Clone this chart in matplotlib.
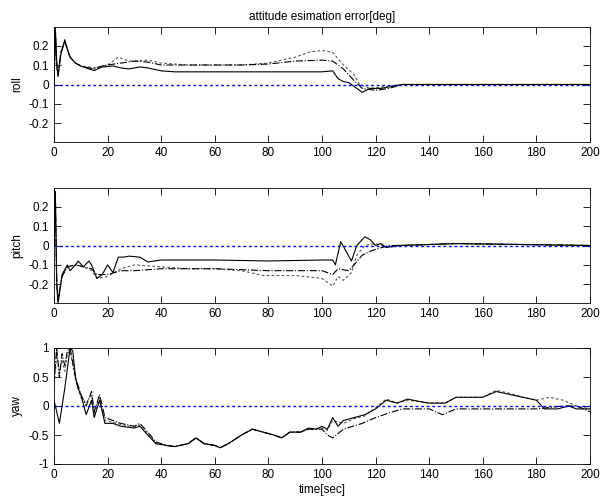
import numpy as np
import matplotlib
matplotlib.use('Agg')
import matplotlib.pyplot as plt
from matplotlib import rc

rc('font', size=8.5, family='Liberation Sans')

# ---- data (time [s], error [deg]) ----
roll_t1 = [0, 0.5, 1, 1.5, 2.5, 4, 5, 6, 8, 10, 13, 15, 18, 22, 25, 28, 32, 35, 40, 45,
           60, 80, 100, 104, 106, 108, 110, 112, 115, 118, 122, 126, 130, 160, 200]
roll_v1 = [0.0, 0.29, 0.12, 0.04, 0.15, 0.23, 0.18, 0.14, 0.11, 0.095, 0.08, 0.072, 0.09, 0.095,
           0.085, 0.08, 0.09, 0.085, 0.07, 0.065, 0.065, 0.065, 0.065, 0.07, 0.03, 0.015, 0.01,
           -0.01, -0.04, -0.02, -0.02, -0.01, 0.0, 0.0, 0.0]
roll_t2 = [0, 0.5, 1, 1.5, 2.5, 4, 5, 6, 8, 10, 13, 15, 18, 20, 25, 30, 35, 40, 50, 60, 70,
           80, 90, 100, 104, 108, 112, 115, 120, 125, 130, 160, 200]
roll_v2 = [0.0, 0.27, 0.1, 0.05, 0.16, 0.22, 0.18, 0.14, 0.11, 0.095, 0.085, 0.08, 0.095, 0.1,
           0.11, 0.12, 0.115, 0.1, 0.1, 0.1, 0.1, 0.105, 0.12, 0.125, 0.12, 0.08, 0.02, -0.02,
           -0.03, -0.02, 0.0, 0.0, 0.0]
roll_t3 = [0, 0.5, 1, 1.5, 2.5, 4, 5, 6, 8, 10, 13, 15, 18, 20, 24, 28, 35, 40, 50, 60, 70,
           80, 90, 95, 100, 104, 108, 112, 114, 118, 124, 130, 160, 200]
roll_v3 = [0.0, 0.26, 0.08, 0.06, 0.17, 0.22, 0.18, 0.14, 0.11, 0.095, 0.09, 0.085, 0.095, 0.1,
           0.14, 0.12, 0.125, 0.11, 0.1, 0.1, 0.1, 0.11, 0.14, 0.165, 0.175, 0.165, 0.1, 0.05,
           0.0, -0.02, -0.01, 0.0, 0.0, 0.0]

pitch_t1 = [0, 0.5, 1, 1.5, 2, 3, 5, 6, 8, 9, 11, 13, 14, 16, 18, 20, 22, 24, 26, 28, 32, 35,
            40, 60, 80, 100, 104, 105, 107, 109, 111, 113, 116, 118, 120, 122, 124, 128, 140,
            150, 200]
pitch_v1 = [0.0, 0.28, -0.2, -0.3, -0.25, -0.15, -0.1, -0.13, -0.1, -0.08, -0.11, -0.08, -0.1,
            -0.17, -0.15, -0.1, -0.14, -0.06, -0.06, -0.055, -0.06, -0.085, -0.075, -0.075,
            -0.08, -0.075, -0.075, -0.1, 0.02, -0.03, -0.08, 0.0, 0.045, 0.03, 0.0, 0.01,
            -0.01, 0.0, 0.005, 0.01, 0.0]
pitch_t2 = [0, 0.5, 1, 1.5, 2, 3, 5, 8, 11, 14, 16, 20, 25, 30, 40, 60, 80, 100, 104, 106,
            110, 112, 115, 118, 120, 125, 130, 150, 200]
pitch_v2 = [0.0, 0.26, -0.18, -0.28, -0.24, -0.16, -0.11, -0.1, -0.11, -0.12, -0.15, -0.15,
            -0.13, -0.13, -0.12, -0.12, -0.13, -0.13, -0.15, -0.12, -0.13, -0.1, -0.05, -0.03,
            -0.02, 0.0, 0.0, 0.01, 0.0]
pitch_t3 = [0, 0.5, 1, 1.5, 2, 3, 5, 8, 11, 14, 16, 20, 25, 30, 40, 50, 60, 70, 78, 90, 100,
            104, 106, 108, 111, 113, 116, 120, 125, 130, 150, 200]
pitch_v3 = [0.0, 0.25, -0.17, -0.27, -0.24, -0.16, -0.11, -0.1, -0.11, -0.13, -0.17, -0.16,
            -0.12, -0.1, -0.11, -0.12, -0.12, -0.13, -0.155, -0.155, -0.17, -0.21, -0.16,
            -0.18, -0.14, -0.05, 0.0, 0.01, -0.01, 0.0, 0.01, 0.0]

yaw_t1 = [0, 2, 4, 6, 7, 8, 9, 10, 12, 14, 15, 17, 19, 22, 25, 30, 32, 35, 38, 42, 45, 50,
          53, 56, 60, 62, 65, 70, 74, 78, 82, 85, 88, 92, 95, 98, 100, 102, 104, 106, 108,
          112, 116, 120, 124, 128, 132, 136, 140, 146, 150, 155, 160, 165, 170, 175, 180,
          183, 188, 192, 195, 200]
yaw_v1 = [0.1, -0.3, 0.3, 1.0, 0.95, 0.5, 0.3, 0.2, -0.15, 0.1, -0.2, 0.1, -0.3, -0.3, -0.35,
          -0.38, -0.35, -0.5, -0.65, -0.68, -0.7, -0.65, -0.55, -0.65, -0.68, -0.72, -0.65,
          -0.5, -0.4, -0.45, -0.5, -0.55, -0.45, -0.45, -0.38, -0.4, -0.35, -0.4, -0.2,
          -0.35, -0.25, -0.2, -0.15, -0.05, 0.1, 0.05, 0.12, 0.08, 0.05, 0.05, 0.15, 0.15,
          0.15, 0.25, 0.2, 0.15, 0.1, -0.05, -0.05, 0.0, -0.05, -0.05]
yaw_t2 = [0, 1, 2, 3, 4, 5, 6, 8, 10, 12, 14, 15, 17, 19, 22, 25, 30, 32, 35, 38, 42, 45,
          50, 53, 56, 60, 62, 65, 70, 74, 78, 82, 85, 88, 92, 95, 100, 102, 104, 108, 115,
          120, 125, 130, 140, 145, 150, 160, 170, 180, 190, 195, 200]
yaw_v2 = [0.4, 1.0, 0.5, 0.9, 0.7, 0.95, 1.0, 0.5, 0.2, 0.0, 0.25, -0.1, 0.2, -0.2, -0.25,
          -0.3, -0.35, -0.3, -0.45, -0.62, -0.68, -0.7, -0.65, -0.55, -0.65, -0.68, -0.72,
          -0.65, -0.5, -0.4, -0.45, -0.5, -0.55, -0.45, -0.45, -0.4, -0.4, -0.5, -0.55,
          -0.4, -0.3, -0.2, -0.12, -0.05, -0.05, -0.15, -0.05, -0.05, -0.05, -0.05, 0.0,
          0.0, -0.1]
yaw_t3 = [0, 1, 2, 3, 4, 5, 6, 8, 10, 12, 14, 15, 17, 19, 22, 25, 30, 32, 35, 38, 42, 45,
          50, 53, 56, 60, 62, 65, 70, 74, 78, 82, 85, 88, 92, 95, 100, 102, 104, 108, 112,
          116, 120, 124, 128, 132, 136, 140, 146, 150, 155, 160, 165, 170, 175, 180, 185,
          190, 195, 200]
yaw_v3 = [0.3, 0.9, 0.6, 0.8, 0.6, 0.9, 0.95, 0.45, 0.15, 0.05, 0.2, -0.15, 0.15, -0.25,
          -0.28, -0.32, -0.36, -0.33, -0.48, -0.64, -0.68, -0.7, -0.65, -0.55, -0.65, -0.68,
          -0.72, -0.65, -0.5, -0.4, -0.45, -0.5, -0.55, -0.45, -0.45, -0.4, -0.38, -0.42,
          -0.25, -0.3, -0.22, -0.17, -0.03, 0.12, 0.05, 0.1, 0.08, 0.05, 0.05, 0.15, 0.15,
          0.15, 0.27, 0.22, 0.15, 0.1, 0.15, 0.1, 0.0, -0.05]

xticks = np.arange(0, 201, 20)

fig = plt.figure(figsize=(6.09, 5.0), dpi=100)

panels = [
  ('roll',  [.0887, .716, .880, .230], roll_t1, roll_v1, roll_t2, roll_v2, roll_t3, roll_v3,
   (-0.295, 0.295), [-0.2, -0.1, 0, 0.1, 0.2]),
  ('pitch', [.0887, .394, .880, .230], pitch_t1, pitch_v1, pitch_t2, pitch_v2, pitch_t3, pitch_v3,
   (-0.297, 0.297), [-0.2, -0.1, 0, 0.1, 0.2]),
  ('yaw',   [.0887, .072, .880, .232], yaw_t1, yaw_v1, yaw_t2, yaw_v2, yaw_t3, yaw_v3,
   (-1, 1), [-1, -0.5, 0, 0.5, 1]),
]

axes = []
for name, rect, t1, v1, t2, v2, t3, v3, ylim, yt in panels:
  ax = fig.add_axes(rect)
  ax.plot(t3, v3, color='0.35', lw=0.8, ls=(0, (2.5, 2)))
  ax.plot(t2, v2, color='k', lw=0.8, ls='-.')
  ax.plot(t1, v1, color='k', lw=0.8, ls='-')
  # zero reference line
  ax.plot([0, 200], [0, 0], color='#0000ff', lw=1.0, ls=(0, (2, 2)))
  ax.set_xlim(0, 200)
  ax.set_ylim(ylim)
  ax.set_xticks(xticks)
  ax.set_yticks(yt)
  ax.set_yticklabels(['{:g}'.format(v) for v in yt])
  ax.tick_params(direction='in', top=True, right=True, length=5, width=0.6, labelsize=8.5)
  for s in ax.spines.values():
    s.set_linewidth(0.6)
  ax.set_ylabel(name, fontsize=8.5, labelpad=4)
  axes.append(ax)

axes[0].set_title('attitude esimation error[deg]', fontsize=8.5, pad=5)
axes[2].set_xlabel('time[sec]', fontsize=8.5, labelpad=2)

plt.savefig('out.png', dpi=100)
